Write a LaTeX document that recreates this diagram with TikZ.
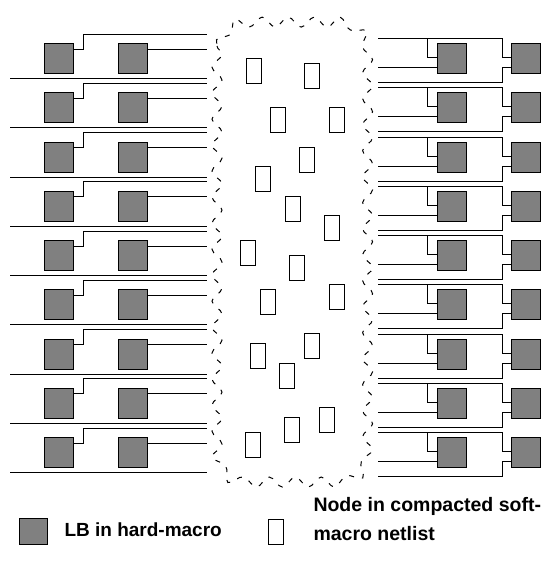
\documentclass[tikz,border=0pt]{standalone}
\usepackage{fontspec}
\setmainfont{Liberation Sans}
\usetikzlibrary{calc,decorations.pathmorphing}
\definecolor{hmgray}{RGB}{128,128,128}
\begin{document}
\begin{tikzpicture}[x=1pt,y=-1pt,line width=1pt,
  hm/.style={draw=black,fill=hmgray,minimum width=29pt,minimum height=30pt,inner sep=0pt,outer sep=0pt,anchor=north west},
  sm/.style={draw=black,fill=white,minimum width=15pt,minimum height=25pt,inner sep=0pt,outer sep=0pt,anchor=north west},
  wire/.style={draw=black,line width=1pt},
  cloudline/.style={draw=black,line width=1pt,dash pattern=on 5pt off 8pt,
    decorate,decoration={snake,segment length=26pt,amplitude=5pt}},
  legtext/.style={font=\bfseries\fontsize{19}{22}\selectfont,inner sep=0pt,anchor=base west}]
\useasboundingbox (0,0) rectangle (545,571);
% cloud (drawn in an unflipped scope)
\begin{scope}[x=1pt,y=1pt]
  \draw[cloudline]
    (217,-46) -- (217,-448) arc[start angle=180,end angle=270,radius=28pt]
    -- (338,-476) arc[start angle=270,end angle=360,radius=28pt]
    -- (366,-46) arc[start angle=0,end angle=90,radius=28pt]
    -- (245,-18) arc[start angle=90,end angle=180,radius=28pt] -- cycle;
\end{scope}
% hard-macro rows
\foreach \i in {0,...,8} {
  \pgfmathsetmacro\t{43.5+49.25*\i}
  \node[hm] (la\i) at (44,\t) {};
  \node[hm] (lb\i) at (118,\t) {};
  \node[hm] (ra\i) at (437,\t) {};
  \node[hm] (rb\i) at (511,\t) {};
  % left side
  \draw[wire] ($(la\i.north east)+(0,5.5)$) -| (83,\t-9.5) -- (207,\t-9.5);
  \draw[wire] ($(lb\i.north east)+(0,5.5)$) -- (207,\t+5.5);
  \draw[wire] (10,\t+35) -- (207,\t+35);
  % right side
  \draw[wire] (378,\t-5) -- (502,\t-5) |- ($(rb\i.north west)+(0,14)$);
  \draw[wire] (427,\t-5) |- ($(ra\i.north west)+(0,14)$);
  \draw[wire] (378,\t+24) -- ($(ra\i.north west)+(0,24)$);
  \draw[wire] (378,\t+39) -- (502,\t+39) |- ($(rb\i.north west)+(0,24)$);
}
% soft-macro nodes
\foreach \x/\y [count=\k] in {246/58,304/63,270/107,329/107,299/147,255/166,285/196,324/215,240/240,289/255,260/289,329/284,304/333,250/343,279/363,284/417,319/407,245/432} {
  \node[sm] (s\k) at (\x,\y) {};
}
% legend
\node[hm,minimum width=28pt,minimum height=26pt] (leghm) at (19,518) {};
\node[legtext] (leghmtext) at (64,536) {LB in hard-macro};
\node[sm] (legsm) at (268,519) {};
\node[legtext,font=\bfseries\fontsize{19.5}{22}\selectfont] (legsmtext1) at (313,511) {Node in compacted soft-};
\node[legtext,font=\bfseries\fontsize{19.5}{22}\selectfont] (legsmtext2) at (313,540) {macro netlist};
\end{tikzpicture}
\end{document}
